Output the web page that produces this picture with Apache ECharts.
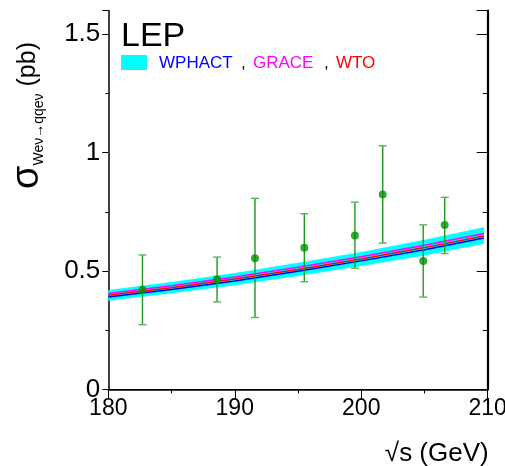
<!DOCTYPE html>
<html>
<head>
<meta charset="utf-8">
<script src="https://cdn.jsdelivr.net/npm/echarts@6/dist/echarts.min.js"></script>
<style>
html,body{margin:0;padding:0;background:#fff;}
#chart{width:505px;height:466px;}
</style>
</head>
<body>
<div id="chart"></div>
<script>
// Theory curves (sqrt(s) in GeV, cross-section in pb)
var theoryEnergy = [180, 185, 190, 195, 200, 205, 209.7];
var wto    = [0.398, 0.430, 0.466, 0.507, 0.551, 0.599, 0.648];
var grace  = [0.405, 0.438, 0.475, 0.516, 0.560, 0.609, 0.659];
var wphact = [0.390, 0.422, 0.458, 0.499, 0.543, 0.590, 0.640];
var bandLow  = [0.375, 0.406, 0.440, 0.479, 0.521, 0.566, 0.615];
var bandHigh = [0.420, 0.454, 0.492, 0.535, 0.581, 0.632, 0.685];

// LEP measurements
var energy  = [182.7, 188.6, 191.6, 195.5, 199.5, 201.7, 204.9, 206.6];
var xsec    = [0.421, 0.465, 0.554, 0.598, 0.650, 0.823, 0.543, 0.694];
var errLow  = [0.274, 0.370, 0.304, 0.455, 0.512, 0.618, 0.390, 0.574];
var errHigh = [0.568, 0.559, 0.807, 0.742, 0.791, 1.029, 0.695, 0.811];

var xTicks = [180, 190, 200, 210];
var yTicks = [0, 0.5, 1, 1.5];

var FONT = 'Liberation Sans, Arial, sans-serif';
var chart = echarts.init(document.getElementById('chart'));

function pairs(xs, ys){ return xs.map(function(x,i){ return [x, ys[i]]; }); }

var errData = energy.map(function(e,i){ return [e, xsec[i], errLow[i], errHigh[i]]; });

var option = {
  animation: false,
  grid: {left: 108.3, right: 17.3, top: 10.5, bottom: 76.5, containLabel: false, outerBoundsMode: 'none'},
  xAxis: [{
    type: 'value', min: xTicks[0], max: xTicks[xTicks.length-1], interval: 10,
    axisLine: {lineStyle: {color: '#000', width: 1.5}},
    axisTick: {show: true, inside: false, length: 6, lineStyle: {color: '#000', width: 1}},
    minorTick: {show: true, splitNumber: 2, length: 3, lineStyle: {color: '#000', width: 1}},
    axisLabel: {color: '#000', fontSize: 23, fontFamily: FONT, margin: 8},
    splitLine: {show: false},
    name: '\u221As (GeV)', nameLocation: 'end', nameGap: 1,
    nameTextStyle: {color: '#000', fontSize: 26, fontFamily: FONT, align: 'right', verticalAlign: 'top', padding: [51, 0, 0, 0]}
  }, {
    type: 'value', position: 'top', min: xTicks[0], max: xTicks[xTicks.length-1], interval: 10,
    axisLine: {show: true, lineStyle: {color: '#000', width: 1.2}},
    axisTick: {show: true, inside: true, length: 10, lineStyle: {color: '#000', width: 1}},
    minorTick: {show: true, splitNumber: 2, length: 4, lineStyle: {color: '#000', width: 1}},
    axisLabel: {show: false}, splitLine: {show: false}
  }],
  yAxis: [{
    type: 'value', min: yTicks[0], max: 1.6, interval: 0.5,
    axisLine: {show: true, lineStyle: {color: '#000', width: 1.5}},
    axisTick: {show: true, inside: false, length: 6, lineStyle: {color: '#000', width: 1}},
    minorTick: {show: true, splitNumber: 2, length: 3, lineStyle: {color: '#000', width: 1}},
    axisLabel: {color: '#000', fontSize: 26, fontFamily: FONT, margin: 8,
      formatter: function(v){ return yTicks.indexOf(v) >= 0 ? String(v) : ''; }},
    splitLine: {show: false}
  }, {
    type: 'value', position: 'right', min: yTicks[0], max: 1.6, interval: 0.5,
    axisLine: {show: true, lineStyle: {color: '#000', width: 2.2}},
    axisTick: {show: true, inside: true, length: 11, lineStyle: {color: '#000', width: 1}},
    minorTick: {show: true, splitNumber: 2, length: 5, lineStyle: {color: '#000', width: 1}},
    axisLabel: {show: false}, splitLine: {show: false}
  }],
  graphic: [
    {type: 'text', left: 121, top: 20, style: {text: 'LEP', fill: '#000', font: '34px ' + FONT}},
    {type: 'rect', shape: {x: 121, y: 55, width: 26, height: 15}, style: {fill: '#00ffff'}},
    {type: 'text', x: 159, y: 63, style: {text: 'WPHACT', fill: '#0000ff', font: '17px ' + FONT, textVerticalAlign: 'middle'}},
    {type: 'text', x: 241, y: 63, style: {text: ',', fill: '#000', font: '17px ' + FONT, textVerticalAlign: 'middle'}},
    {type: 'text', x: 253, y: 63, style: {text: 'GRACE', fill: '#ff00ff', font: '17px ' + FONT, textVerticalAlign: 'middle'}},
    {type: 'text', x: 324, y: 63, style: {text: ',', fill: '#000', font: '17px ' + FONT, textVerticalAlign: 'middle'}},
    {type: 'text', x: 336, y: 63, style: {text: 'WTO', fill: '#ff0000', font: '17px ' + FONT, textVerticalAlign: 'middle'}},
    {type: 'text', x: 28, y: 189, rotation: Math.PI/2,
      style: {
        text: '{s|\u03C3}{sub|We\u03BD\u2192qqe\u03BD}{n| (pb)}',
        textAlign: 'left', textVerticalAlign: 'middle',
        rich: {
          s: {fontSize: 38, fontFamily: FONT, fill: '#000', verticalAlign: 'middle', lineHeight: 36},
          sub: {fontSize: 14, fontFamily: FONT, fill: '#000', verticalAlign: 'bottom', lineHeight: 15},
          n: {fontSize: 25, fontFamily: FONT, fill: '#000', verticalAlign: 'middle', lineHeight: 36}
        }
      }}
  ],
  series: [
    {
      type: 'custom', xAxisIndex: 0, yAxisIndex: 0, silent: true, z: 1,
      data: [[theoryEnergy[0], bandLow[0]]],
      renderItem: function(params, api){
        var pts = [];
        for (var i = 0; i < theoryEnergy.length; i++) pts.push(api.coord([theoryEnergy[i], bandHigh[i]]));
        for (var j = theoryEnergy.length - 1; j >= 0; j--) pts.push(api.coord([theoryEnergy[j], bandLow[j]]));
        return {type: 'polygon', shape: {points: pts}, style: {fill: '#00ffff'}};
      }
    },
    {type: 'line', data: pairs(theoryEnergy, wphact), showSymbol: false, z: 2,
      lineStyle: {color: '#0000ff', width: 1.5}},
    {type: 'line', data: pairs(theoryEnergy, grace), showSymbol: false, z: 2,
      lineStyle: {color: '#ff00ff', width: 1.5}},
    {type: 'line', data: pairs(theoryEnergy, wto), showSymbol: false, z: 3,
      lineStyle: {color: '#ff0000', width: 1.5}},
    {
      type: 'custom', silent: true, z: 4,
      data: errData,
      renderItem: function(params, api){
        var x = api.value(0);
        var lo = api.coord([x, api.value(2)]);
        var hi = api.coord([x, api.value(3)]);
        var hw = 4;
        var st = {stroke: '#1f9a1f', lineWidth: 1.4};
        var cs = {stroke: '#55b855', lineWidth: 1.4};
        return {type: 'group', children: [
          {type: 'line', shape: {x1: lo[0], y1: lo[1], x2: hi[0], y2: hi[1]}, style: st},
          {type: 'line', shape: {x1: lo[0]-hw, y1: lo[1], x2: lo[0]+hw, y2: lo[1]}, style: cs},
          {type: 'line', shape: {x1: hi[0]-hw, y1: hi[1], x2: hi[0]+hw, y2: hi[1]}, style: cs}
        ]};
      }
    },
    {type: 'scatter', data: pairs(energy, xsec), symbol: 'circle', symbolSize: 8, z: 5,
      itemStyle: {color: '#009200'}}
  ]
};
chart.setOption(option);
</script>
</body>
</html>
